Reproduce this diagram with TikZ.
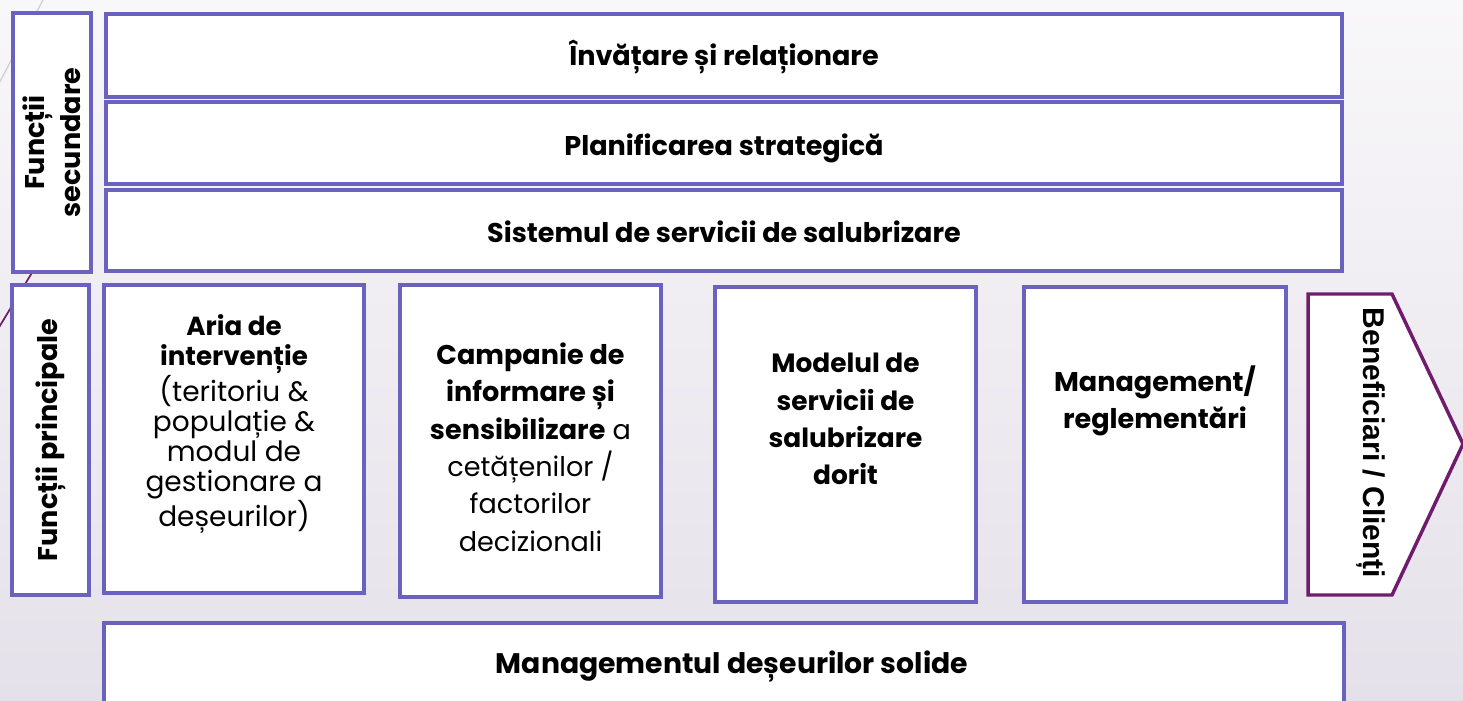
\documentclass[tikz,border=0pt]{standalone}
\usepackage{fontspec}
\setmainfont{Poppins}
\newfontfamily\arialfont{Liberation Sans}
\definecolor{boxblue}{RGB}{106,98,190}
\definecolor{arrowpurple}{RGB}{112,28,108}
\definecolor{bgtop}{RGB}{248,247,249}
\definecolor{bgbot}{RGB}{229,225,234}
\definecolor{declight}{RGB}{214,204,224}
\tikzset{
  panel/.style={draw=boxblue, line width=2.9pt, fill=white, inner sep=0pt},
  rowtext/.style={font=\fontsize{20.3}{24}\selectfont\bfseries, inner sep=0pt, anchor=base},
  coltext/.style={align=center, inner sep=0pt},
  sidetext/.style={font=\fontsize{20.3}{27}\selectfont\bfseries, align=center, inner sep=0pt, rotate=90},
}
\begin{document}
\begin{tikzpicture}[x=0.75pt,y=-0.75pt]
\useasboundingbox (0,0) rectangle (1463,700);
\shade[top color=bgtop, bottom color=bgbot] (0,0) rectangle (1463,700);
\clip (0,0) rectangle (1463,700);
% decorative lines
\draw[declight, line width=1pt] (43,0) -- (-5,91);
\draw[arrowpurple, line width=1.3pt] (33,271) -- (-5,334);
% side labels
\node[panel, minimum width=58.5pt, minimum height=194.25pt] (fs) at (52,142.5) {};
\node[sidetext] (fst) at (fs.center) {Funcții\\secundare};
\node[panel, minimum width=57.75pt, minimum height=232.5pt] (fp) at (50.5,440) {};
\node[sidetext] (fpt) at (fp.center) {Funcții principale};
% top rows
\node[panel, minimum width=927pt, minimum height=62.25pt] (r1) at (724,55.5) {};
\node[panel, minimum width=927pt, minimum height=61.5pt] (r2) at (724,143) {};
\node[panel, minimum width=927pt, minimum height=60.75pt] (r3) at (724,230.5) {};
\node[rowtext] (r1t) at (724,65) {Învățare și relaționare};
\node[rowtext] (r2t) at (724,155) {Planificarea strategică};
\node[rowtext] (r3t) at (724,242) {Sistemul de servicii de salubrizare};
% columns
\node[panel, minimum width=195pt, minimum height=231pt] (c1) at (234,439) {};
\node[panel, minimum width=195.75pt, minimum height=234pt] (c2) at (530.5,441) {};
\node[panel, minimum width=195.75pt, minimum height=236.25pt] (c3) at (845.5,444.5) {};
\node[panel, minimum width=196.5pt, minimum height=236.25pt] (c4) at (1155,444.5) {};
\node[coltext, font=\fontsize{21}{22.5}\selectfont] (c1t) at (234,424)
  {{\fontsize{19.6}{22.5}\selectfont\bfseries Aria de}\\{\fontsize{19.6}{22.5}\selectfont\bfseries intervenție}\\(teritoriu \&\\populație \&\\modul de\\gestionare a\\deșeurilor)};
\node[coltext, font=\fontsize{20.3}{28}\selectfont] (c2t) at (530.5,447)
  {\textbf{Campanie de}\\\textbf{informare și}\\\textbf{sensibilizare} a\\cetățenilor /\\factorilor\\decizionali};
\node[coltext, font=\fontsize{19.8}{28}\selectfont\bfseries] (c3t) at (845.5,419)
  {Modelul de\\servicii de\\salubrizare\\dorit};
\node[coltext, font=\fontsize{20.3}{28}\selectfont\bfseries] (c4t) at (1155,401)
  {Management/\\reglementări};
% beneficiaries arrow
\coordinate (a1) at (1308,294);
\coordinate (a2) at (1392,294);
\coordinate (a3) at (1463,444);
\coordinate (a4) at (1392,595);
\coordinate (a5) at (1308,595);
\draw[arrowpurple, line width=2.6pt, fill=white, line join=miter] (a1) -- (a2) -- (a3) -- (a4) -- (a5) -- cycle;
\node[font=\arialfont\fontsize{22.5}{27}\selectfont\bfseries, rotate=-90, inner sep=0pt] (ben) at (1371,443) {Beneficiari / Clienți};
% bottom
\node[panel, minimum width=930pt, minimum height=75pt] (bot) at (724,673) {};
\node[rowtext, font=\fontsize{21.2}{24}\selectfont\bfseries] (bott) at (732,673) {Managementul deșeurilor solide};
\end{tikzpicture}
\end{document}
